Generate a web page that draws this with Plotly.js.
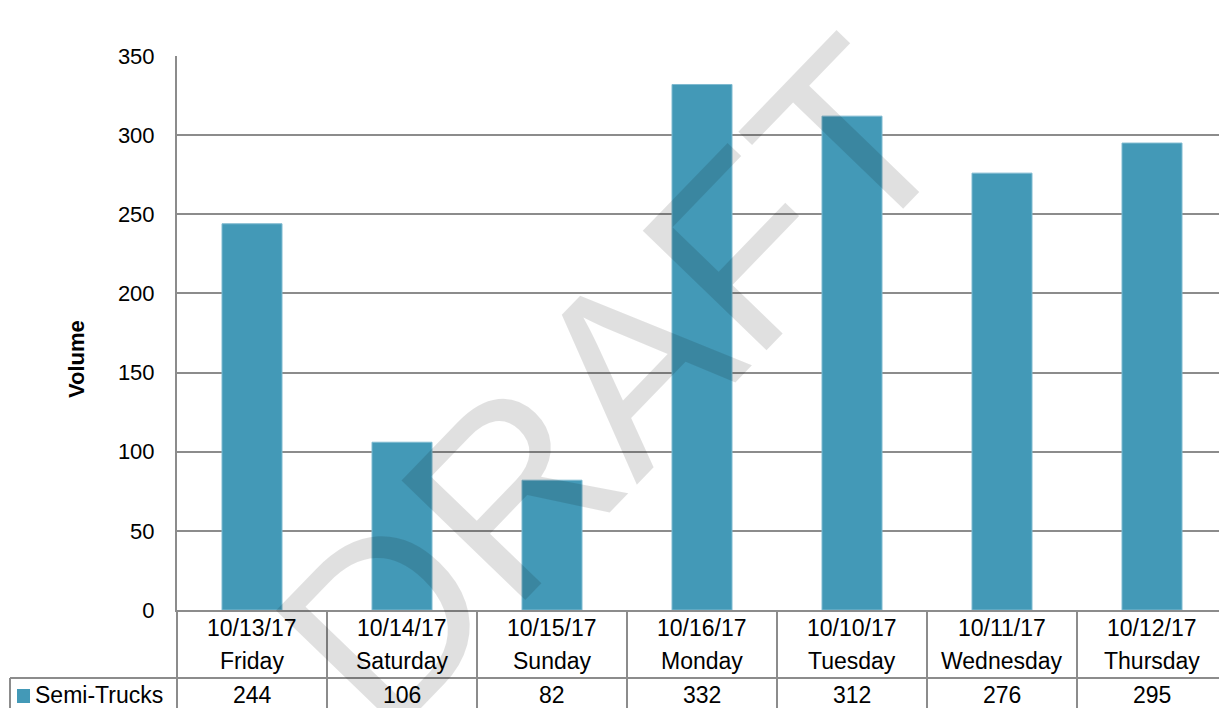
<!DOCTYPE html>
<html>
<head>
<meta charset="utf-8">
<script src="https://cdn.plot.ly/plotly-3.0.1.min.js"></script>
<style>html,body{margin:0;padding:0;background:#fff;}#chart{width:1219px;height:708px;}</style>
</head>
<body>
<div id="chart"></div>
<script>
var dates = ["10/13/17","10/14/17","10/15/17","10/16/17","10/10/17","10/11/17","10/12/17"];
var days = ["Friday","Saturday","Sunday","Monday","Tuesday","Wednesday","Thursday"];
var semiTrucks = [244,106,82,332,312,276,295];
var seriesName = "Semi-Trucks";
var yTitle = "Volume";
var watermark = "DRAFT";

var barColor = "#4399b7";
var lineColor = "#8c8c8c";
var font = "Liberation Sans, Arial, sans-serif";
var tblSize = 23;

var W = 1219, H = 708;
var mL = 177, mR = 0, mT = 56, mB = 98;
var plotW = W - mL - mR, plotH = H - mT - mB;
function py(px){ return (mT + plotH - px) / plotH; } // page y px -> paper y
function pxX(px){ return (px - mL) / plotW; }

var idx = dates.map(function(_, i){ return i; });
var catW = 150; // px per category
var xmax = -0.5 + plotW / catW;

var shapes = [];
var annotations = [];
for (var k = 0; k <= dates.length; k++) {
  shapes.push({type:"line", xref:"x", yref:"paper", x0:k-0.5, x1:k-0.5, y0:0, y1:py(H+2),
    line:{color:lineColor, width:2}});
}
shapes.push({type:"line", xref:"paper", yref:"paper", x0:pxX(10), x1:1, y0:py(678), y1:py(678), line:{color:lineColor, width:2}});
shapes.push({type:"line", xref:"paper", yref:"paper", x0:pxX(10), x1:pxX(10), y0:py(678), y1:py(H+2), line:{color:lineColor, width:2}});
shapes.push({type:"line", xref:"paper", yref:"paper", x0:pxX(177), x1:pxX(177), y0:py(610), y1:py(H+2), line:{color:lineColor, width:2}});
shapes.push({type:"rect", xref:"paper", yref:"paper", x0:pxX(17), x1:pxX(30), y0:py(703), y1:py(689), fillcolor:barColor, line:{width:0}});

idx.forEach(function(i){
  annotations.push({xref:"x", yref:"paper", x:i, y:py(628), text:dates[i], showarrow:false, font:{family:font, size:tblSize, color:"#000"}, yanchor:"middle"});
  annotations.push({xref:"x", yref:"paper", x:i, y:py(661), text:days[i], showarrow:false, font:{family:font, size:tblSize, color:"#000"}, yanchor:"middle"});
  annotations.push({xref:"x", yref:"paper", x:i, y:py(695), text:String(semiTrucks[i]), showarrow:false, font:{family:font, size:tblSize, color:"#000"}, yanchor:"middle"});
});
annotations.push({xref:"paper", yref:"paper", x:pxX(33), y:py(695), xanchor:"left", yanchor:"middle", text:seriesName, showarrow:false, font:{family:font, size:tblSize, color:"#000"}});
annotations.push({xref:"paper", yref:"paper", x:pxX(76), y:py(359), xanchor:"center", yanchor:"middle", text:"<b>"+yTitle+"</b>", textangle:-90, showarrow:false, font:{family:font, size:22, color:"#000"}});
annotations.push({xref:"paper", yref:"paper", x:pxX(612), y:py(385), xanchor:"center", yanchor:"middle", text:watermark, textangle:-46, showarrow:false, font:{family:font, size:250, color:"rgba(0,0,0,0.12)"}});

var trace = {
  type:"bar", x:idx, y:semiTrucks, name:seriesName, width:0.4,
  marker:{color:barColor, line:{color:"#7fbad0", width:1}}, hoverinfo:"none"
};

var layout = {
  width:W, height:H,
  margin:{l:mL, r:mR, t:mT, b:mB, pad:0},
  paper_bgcolor:"#fff", plot_bgcolor:"#fff",
  showlegend:false,
  xaxis:{range:[-0.5, xmax], showticklabels:false, showgrid:false, zeroline:false,
    showline:true, linecolor:lineColor, linewidth:2, ticks:"", fixedrange:true},
  yaxis:{range:[0,350], dtick:50, tick0:0, showgrid:true, gridcolor:lineColor, gridwidth:2,
    zeroline:false, showline:true, linecolor:lineColor, linewidth:2, ticks:"",
    ticklabelstandoff:16, tickfont:{family:font, size:22, color:"#000"}, fixedrange:true},
  shapes:shapes,
  annotations:annotations,
  bargap:0.6
};

Plotly.newPlot("chart", [trace], layout, {displayModeBar:false, staticPlot:true});
</script>
</body>
</html>
